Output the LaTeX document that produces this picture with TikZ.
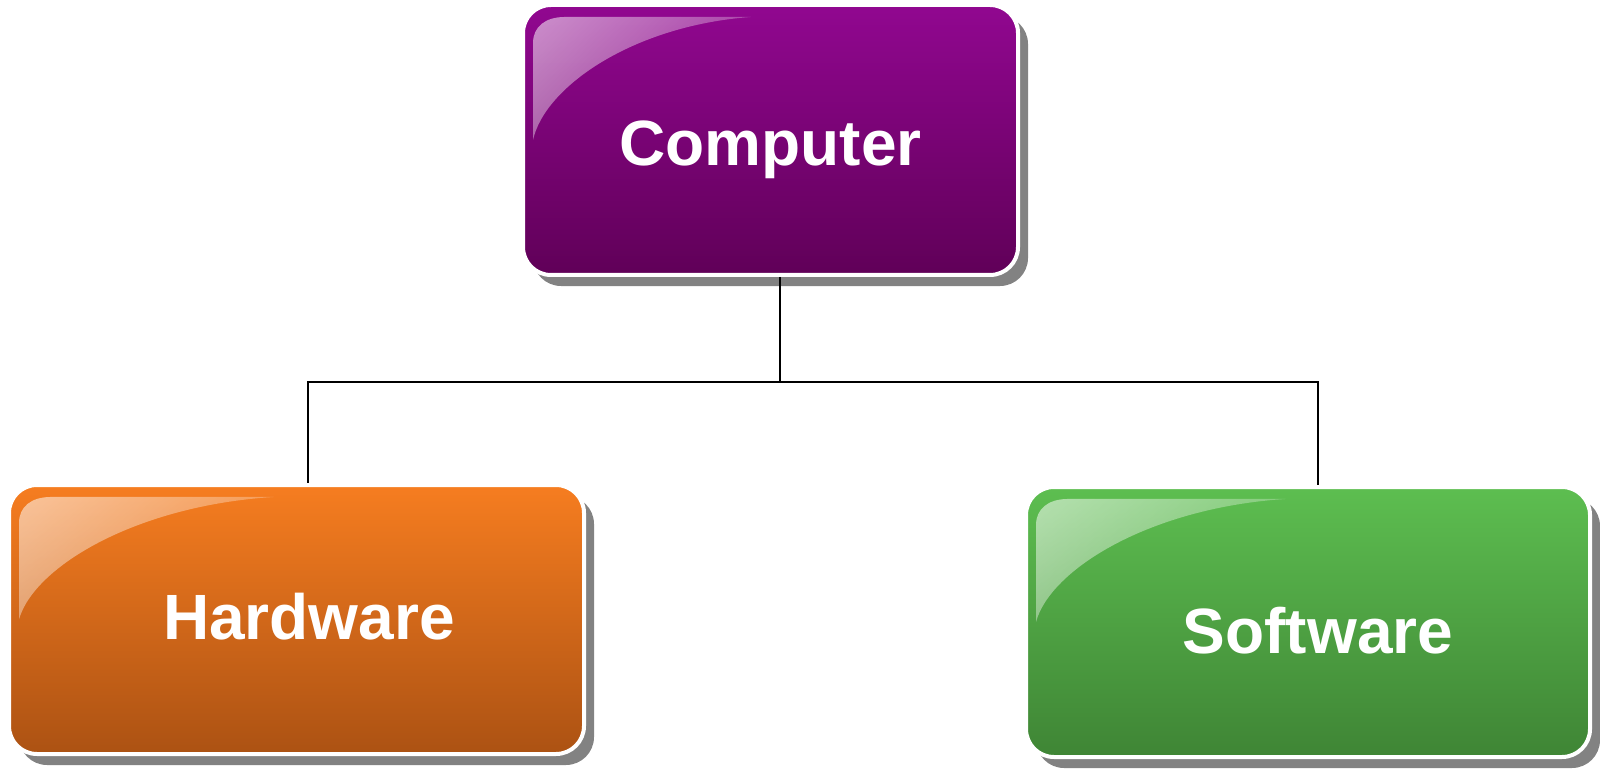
\documentclass[tikz,border=0pt]{standalone}
\usepackage{fontspec}
\setmainfont{Liberation Sans}
\usetikzlibrary{shadows,fadings,calc}
\definecolor{purpTop}{HTML}{910790}
\definecolor{purpBot}{HTML}{600058}
\definecolor{orngTop}{HTML}{F67D20}
\definecolor{orngBot}{HTML}{AC5213}
\definecolor{grnTop}{HTML}{5DBE50}
\definecolor{grnBot}{HTML}{3F8535}
\definecolor{shadowgray}{HTML}{828282}
\begin{tikzfadingfrompicture}[name=glossfade]
  \shade[top color=white, bottom color=black, shading angle=60] (-50bp,-50bp) rectangle (50bp,50bp);
\end{tikzfadingfrompicture}
\tikzset{
  boxnode/.style={rectangle, rounded corners=14pt, draw=white, line width=2pt, inner sep=0pt,
    drop shadow={shadow xshift=5pt, shadow yshift=-5.5pt, fill=shadowgray, opacity=1}},
  conn/.style={draw=black, line width=1pt},
  lbl/.style={text=white, font=\fontsize{32}{38}\selectfont\bfseries, inner sep=0pt, anchor=base},
  gloss/.style={fill=white, fill opacity=0.65, path fading=glossfade},
}
\newcommand\glossy[4]{%
  \fill[gloss] ({#1+8},{#2+0.5*#4}) -- ({#1+8},{#2+36})
    .. controls ({#1+8},{#2+20}) and ({#1+20},{#2+10}) .. ({#1+40},{#2+10})
    -- ({#1+0.46*#3},{#2+10})
    .. controls ({#1+0.22*#3},{#2+0.07*#4}) and ({#1+0.04*#3},{#2+0.3*#4}) .. ({#1+8},{#2+0.5*#4}) -- cycle;}
\begin{document}
\begin{tikzpicture}[x=0.5pt, y=-0.5pt]
\useasboundingbox (0,0) rectangle (1600,770);
% boxes
\node[boxnode, top color=purpTop, bottom color=purpBot, minimum width=247.5pt, minimum height=135pt] (comp) at (770.5,140) {};
\node[boxnode, top color=orngTop, bottom color=orngBot, minimum width=287.5pt, minimum height=134.5pt] (hw) at (296.5,619.5) {};
\node[boxnode, top color=grnTop, bottom color=grnBot, minimum width=282pt, minimum height=135pt] (sw) at (1308,622) {};
% gloss highlights
\glossy{525}{7}{491}{266}
\glossy{11}{487}{571}{265}
\glossy{1028}{489}{560}{266}
% labels
\node[lbl] (compt) at (770.5,166) {Computer};
\node[lbl] (hwt) at (309,639) {Hardware};
\node[lbl] (swt) at (1318,653) {Software};
% connectors
\coordinate (jy) at (780,382);
\draw[conn] ([xshift=4.75pt]comp.south) |- ([xshift=5.75pt]hw.north |- jy) -- ([xshift=5.75pt]hw.north);
\draw[conn] ([xshift=4.75pt]comp.south |- jy) -| ([xshift=5pt]sw.north);
\end{tikzpicture}
\end{document}
